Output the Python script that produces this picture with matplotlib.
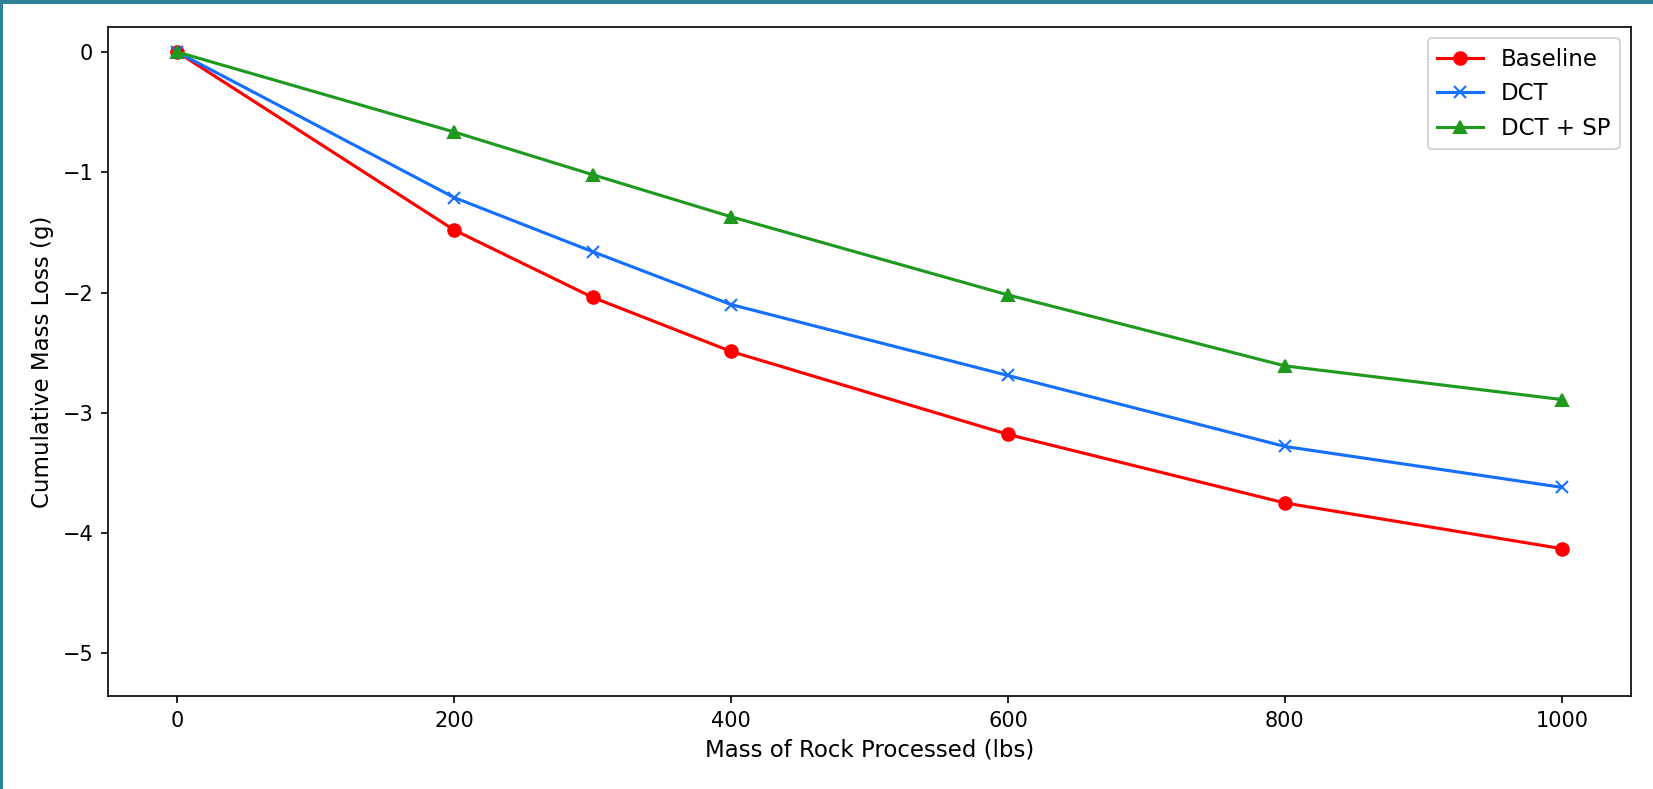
import matplotlib
matplotlib.use("Agg")
import matplotlib.pyplot as plt
from matplotlib.patches import Rectangle

# Mass of rock processed (lbs) and cumulative mass loss (g) for each treatment
rock_mass = [0, 200, 300, 400, 600, 800, 1000]
baseline = [0, -1.48, -2.04, -2.49, -3.18, -3.75, -4.13]
dct = [0, -1.21, -1.66, -2.10, -2.69, -3.28, -3.62]
dct_sp = [0, -0.665, -1.02, -1.37, -2.02, -2.61, -2.89]

series_labels = ["Baseline", "DCT", "DCT + SP"]

fig = plt.figure(figsize=(11.02, 5.26), dpi=150)
ax = fig.add_axes([0.0653, 0.1179, 0.9214, 0.8479])

ax.plot(rock_mass, baseline, marker="o", color="#ff0000", label=series_labels[0])
ax.plot(rock_mass, dct, marker="x", color="#1670ff", label=series_labels[1])
ax.plot(rock_mass, dct_sp, marker="^", color="#1f9a1f", label=series_labels[2])

ax.set_xlim(-50, 1050)
ax.set_ylim(-5.355, 0.208)
ax.set_xlabel("Mass of Rock Processed (lbs)", fontsize=11)
ax.set_ylabel("Cumulative Mass Loss (g)", fontsize=11)
ax.legend(loc="upper right", fontsize=11)

# thin frame accent along the top and left edges of the figure
fig.patches.append(Rectangle((0, 0), 0.0013, 1, transform=fig.transFigure,
                             color="#2e8196", zorder=10))
fig.patches.append(Rectangle((0, 0.9965), 1, 0.0035, transform=fig.transFigure,
                             color="#2e8196", zorder=10))

fig.savefig("out.png", dpi=150)
